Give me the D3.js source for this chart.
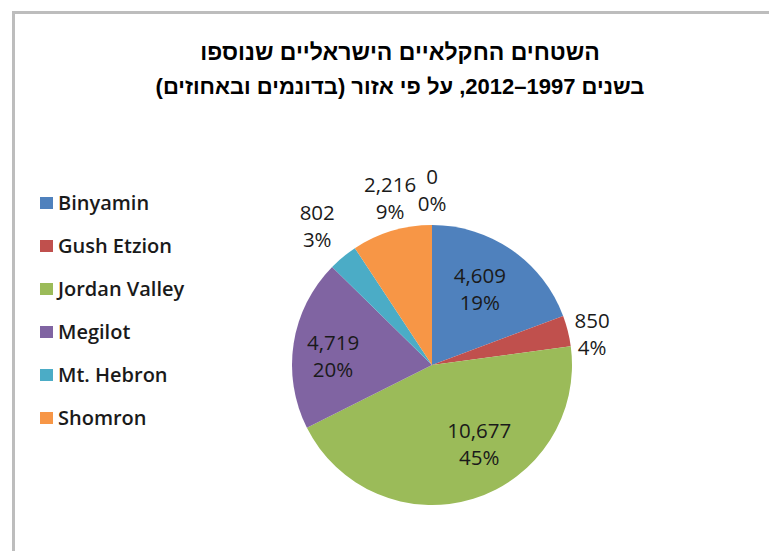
<!DOCTYPE html>
<html><head><meta charset="utf-8">
<script src="https://cdn.jsdelivr.net/npm/d3@7"></script>
<style>
html,body{margin:0;padding:0;background:#fff;}
svg{display:block;}
</style></head>
<body>
<svg id="chart" width="769" height="551"></svg>
<script>
const titleLines = ["השטחים החקלאיים הישראליים שנוספו", "בשנים 1997–2012, על פי אזור (בדונמים ובאחוזים)"];
const categories = ["Binyamin", "Gush Etzion", "Jordan Valley", "Megilot", "Mt. Hebron", "Shomron", ""];
const values = [4609, 850, 10677, 4719, 802, 2216, 0];
const percentLabels = ["19%", "4%", "45%", "20%", "3%", "9%", "0%"];
const colors = ["#4F81BD", "#C0504D", "#9BBB59", "#8064A2", "#4BACC6", "#F79646", "#2C4D75"];

const svg = d3.select("#chart");
const W = 769, H = 551;

// frame
svg.append("rect").attr("x", 13.5).attr("y", 12.5).attr("width", W + 20).attr("height", H + 20)
  .attr("fill", "#fff").attr("stroke", "#bdbdbd").attr("stroke-width", 3);

// title
const title = svg.append("text").attr("text-anchor", "middle").attr("direction", "rtl")
  .style("font-family", "'Liberation Sans', Arial, sans-serif").style("font-weight", "bold")
  .attr("fill", "#000");
titleLines.forEach((t, i) => {
  title.append("tspan").attr("x", 400).attr("y", 60 + i * 34)
    .style("font-size", i === 0 ? "23px" : "22px").text(t);
});

// pie
const cx = 432, cy = 365, R = 140;
const pie = d3.pie().sort(null).value(d => d.v);
const data = categories.map((c, i) => ({c, v: values[i], p: percentLabels[i], col: colors[i], i}));
const arcs = pie(data);
const arc = d3.arc().innerRadius(0).outerRadius(R);
const g = svg.append("g").attr("transform", `translate(${cx},${cy})`);
g.selectAll("path").data(arcs.filter(a => a.data.v > 0)).join("path")
  .attr("d", arc).attr("fill", d => d.data.col);

// label placement relative to each slice's mid-angle
const labelR = [0.64, 1.165, 0.66, 0.71, 1.29, 1.23, 1.25];
const labelAngleShift = [-2.5, 3, -13.5, -3.7, 0, 2.6, 0];
const fmt = d3.format(",");
const lab = g.selectAll("g.lab").data(arcs).join("g").attr("class", "lab")
  .attr("transform", d => {
    const a = (d.startAngle + d.endAngle) / 2 + labelAngleShift[d.data.i] * Math.PI / 180;
    const r = R * labelR[d.data.i];
    return `translate(${Math.sin(a) * r},${-Math.cos(a) * r})`;
  });
const labFont = "'Open Sans', Lato, sans-serif";
lab.append("text").attr("text-anchor", "middle").attr("y", -6)
  .style("font-family", labFont).style("font-size", "20.5px").attr("fill", "#1a1a1a")
  .text(d => fmt(d.data.v));
lab.append("text").attr("text-anchor", "middle").attr("y", 21)
  .style("font-family", labFont).style("font-size", "20.5px").attr("fill", "#1a1a1a")
  .text(d => d.data.p);

// legend
const leg = svg.append("g");
const legItems = data.filter(d => d.c !== "");
const li = leg.selectAll("g").data(legItems).join("g")
  .attr("transform", (d, i) => `translate(40,${197 + i * 43})`);
li.append("rect").attr("width", 13).attr("height", 12).attr("fill", d => d.col);
li.append("text").attr("x", 18).attr("y", 13)
  .style("font-family", "'Open Sans', Lato, sans-serif").style("font-weight", "600").style("font-size", "20px")
  .attr("fill", "#1a1a1a").text(d => d.c);
</script>
</body></html>
